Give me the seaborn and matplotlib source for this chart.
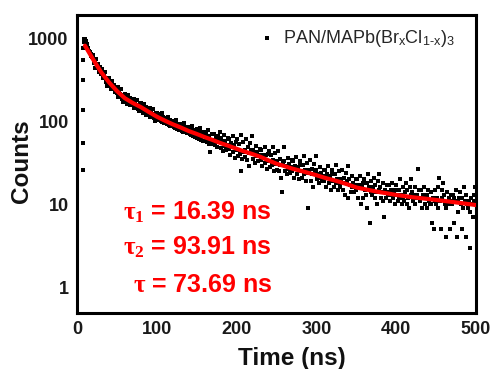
import numpy as np
import pandas as pd
import matplotlib
matplotlib.use("Agg")
import matplotlib.pyplot as plt
import seaborn as sns

# ---------------- data ----------------
# rising edge of the decay
rise_time = [7, 7, 7, 7.5, 7.5, 8, 8.5, 9]
rise_counts = [26, 55, 138, 320, 560, 780, 930, 1000]

# decay counts, one channel per ns from 10 ns to 500 ns
decay_start, decay_stop = 10, 500
decay_counts = [
    990, 950, 875, 820, 780, 720, 700, 650, 630, 598,   # 10
    638, 506, 557, 450, 567, 462, 496, 399, 437, 454,   # 20
    380, 438, 335, 387, 354, 398, 303, 336, 273, 332,   # 30
    336, 270, 300, 246, 314, 258, 281, 228, 252, 265,   # 40
    223, 260, 200, 233, 216, 246, 188, 211, 173, 213,   # 50
    215, 174, 196, 162, 209, 175, 191, 158, 175, 187,   # 60
    160, 188, 146, 172, 160, 183, 143, 161, 133, 166,   # 70
    168, 136, 153, 127, 163, 136, 149, 122, 137, 146,   # 80
    124, 146, 114, 134, 124, 143, 110, 125, 103, 128,   # 90
    128, 108, 124, 104, 120, 102, 126, 100, 114, 97,    # 100
    112, 96, 109, 93, 115, 91, 105, 88, 102, 90,        # 110
    101, 86, 98, 83, 104, 81, 95, 84, 79, 92,           # 120
    94, 78, 90, 76, 96, 74, 87, 80, 72, 85,             # 130
    86, 71, 83, 69, 89, 67, 80, 73, 65, 78,             # 140
    81, 64, 77, 62, 84, 60, 74, 68, 58, 72,             # 150
    76, 59, 71, 56, 79, 54, 68, 43, 57, 70,             # 160
    54, 60, 70, 52, 63, 58, 49, 67, 60, 75,             # 170
    63, 48, 56, 44, 69, 51, 58, 45, 52, 63,             # 180
    47, 61, 39, 55, 50, 68, 43, 52, 36, 56,             # 190
    61, 45, 38, 54, 41, 69, 25, 35, 57, 43,             # 200
    37, 46, 61, 34, 50, 42, 29, 55, 45, 68,             # 210
    46, 35, 41, 32, 51, 38, 43, 33, 39, 47,             # 220
    34, 45, 29, 40, 37, 50, 32, 39, 27, 41,             # 230
    44, 33, 28, 39, 30, 50, 34, 25, 42, 31,             # 240
    26, 33, 44, 25, 35, 30, 21, 14, 32, 49,             # 250
    33, 25, 29, 23, 36, 27, 31, 24, 28, 34,             # 260
    25, 33, 21, 29, 27, 37, 23, 28, 20, 30,             # 270
    33, 25, 21, 30, 23, 38, 26, 19, 32, 24,             # 280
    9, 26, 34, 19, 27, 23, 16, 31, 25, 38,              # 290
    26, 20, 23, 18, 28, 21, 24, 19, 22, 26,             # 300
    19, 26, 16, 23, 21, 29, 18, 22, 15, 23,             # 310
    26, 19, 16, 23, 18, 30, 20, 15, 25, 18,             # 320
    16, 20, 26, 15, 21, 18, 13, 24, 19, 29,             # 330
    12, 20, 17, 14, 22, 16, 18, 14, 17, 20,             # 340
    15, 20, 12, 17, 16, 22, 10, 17, 12, 18,             # 350
    20, 15, 13, 18, 9, 23, 16, 6, 19, 14,               # 360
    13, 16, 21, 12, 17, 14, 10, 19, 15, 23,             # 370
    16, 12, 14, 11, 18, 7, 15, 12, 14, 17,              # 380
    13, 17, 11, 15, 13, 18, 12, 14, 10, 15,             # 390
    17, 13, 11, 15, 12, 20, 13, 10, 16, 12,             # 400
    11, 14, 18, 10, 15, 12, 9, 16, 13, 20,              # 410
    14, 11, 13, 10, 16, 12, 13, 27, 12, 15,             # 420
    11, 15, 9, 13, 12, 16, 10, 13, 9, 13,               # 430
    15, 11, 10, 14, 10, 6, 12, 5, 15, 11,               # 440
    10, 12, 16, 9, 21, 11, 5, 15, 12, 18,               # 450
    13, 10, 4, 9, 14, 10, 12, 5, 11, 13,                # 460
    10, 13, 6, 12, 11, 15, 4, 11, 8, 12,                # 470
    14, 10, 5, 12, 9, 16, 11, 4, 13, 10,                # 480
    9, 11, 3, 8, 12, 10, 7, 13, 11, 16, 10,             # 490-500
]

# fitted curve
fit_time = [10, 20, 30, 40, 50, 60, 70, 80, 90, 100, 110, 120, 130, 140, 150,
            160, 170, 180, 190, 200, 210, 220, 230, 240, 250, 260, 270, 280,
            290, 300, 310, 320, 330, 340, 350, 360, 370, 380, 390, 400, 410,
            420, 430, 440, 450, 460, 470, 480, 490, 500]
fit_counts = [830, 570, 400, 300, 235, 192, 168, 150, 131, 115, 103, 93, 85,
              77, 71, 65, 60, 55, 51, 47, 43.5, 40.5, 37.5, 34, 31, 29, 27,
              25.5, 24, 22.5, 21, 19.8, 18.6, 17.3, 16, 15.3, 14.6, 14, 13.5,
              13, 12.6, 12.2, 11.9, 11.6, 11.3, 11, 10.7, 10.4, 10.1, 9.8]

series_label = "PAN/MAPb(Br$_\\mathregular{x}$Cl$_\\mathregular{1\u2010x}$)$_\\mathregular{3}$"
tau_lines = [r"$\mathrm{\tau}_{\mathrm{1}}\ $= 16.39 ns",
             r"$\mathrm{\tau}_{\mathrm{2}}\ $= 93.91 ns",
             r"$\mathrm{\tau}\ $= 73.69 ns"]
x_ticks = [0, 100, 200, 300, 400, 500]
y_ticks = [1, 10, 100, 1000]

# ---------------- styling ----------------
sns.set_style("white")
plt.rcParams["font.family"] = ["Liberation Sans", "DejaVu Sans"]
plt.rcParams["mathtext.fontset"] = "custom"
plt.rcParams["mathtext.rm"] = "Liberation Serif:bold"
plt.rcParams["mathtext.it"] = "Liberation Serif:italic:bold"
plt.rcParams["mathtext.bf"] = "Liberation Serif:bold"

decay_time = np.arange(decay_start, decay_stop + 1)
df = pd.DataFrame({
    "time": list(rise_time) + list(decay_time),
    "counts": list(rise_counts) + list(decay_counts),
})
fit_df = pd.DataFrame({"time": fit_time, "counts": fit_counts})

fig = plt.figure(figsize=(4.91, 3.69), dpi=100)
ax = fig.add_axes([77 / 491, 1 - 313 / 369, 399 / 491, 298 / 369])

sns.scatterplot(data=df, x="time", y="counts", ax=ax, marker="s", s=9.5,
                color="black", linewidth=0, label=series_label, zorder=2)
sns.lineplot(data=fit_df, x="time", y="counts", ax=ax, color="#ff0000",
             linewidth=3.0, zorder=3, legend=False)

ax.set_yscale("log")
ax.set_xlim(0, 500)
ax.set_ylim(0.485, 1950)
ax.set_xticks(x_ticks)
ax.set_xticklabels([str(v) for v in x_ticks])
ax.set_xticks([50, 150, 250, 350, 450], minor=True)
ax.set_yticks(y_ticks)
ax.set_yticklabels([str(v) for v in y_ticks])
ax.yaxis.set_minor_locator(matplotlib.ticker.LogLocator(base=10, subs=np.arange(2, 10)))
ax.yaxis.set_minor_formatter(matplotlib.ticker.NullFormatter())

for sp in ax.spines.values():
    sp.set_linewidth(2.2)
    sp.set_color("black")

ax.tick_params(axis="both", which="major", direction="in", length=5, width=2,
               labelsize=13, pad=6, colors="black")
ax.tick_params(axis="both", which="minor", direction="in", length=3.5, width=1.6)
ax.tick_params(top=False, right=False, which="both")
for lab in ax.get_xticklabels() + ax.get_yticklabels():
    lab.set_fontweight("bold")
    lab.set_color("#1a1a1a")

ax.set_xlabel("Time (ns)", fontsize=17.5, fontweight="bold", color="#111111")
ax.set_ylabel("Counts", fontsize=17.5, fontweight="bold", color="#111111")
ax.xaxis.set_label_coords(0.539, -0.115)
ax.yaxis.set_label_coords(-0.11, 0.51)

leg = ax.legend(loc="upper right", bbox_to_anchor=(0.965, 0.98), frameon=False,
                fontsize=13, handletextpad=0.4, handlelength=1.0,
                borderaxespad=0, markerscale=0.8)

ys = [0.315, 0.198, 0.0705]
for txt, yy in zip(tau_lines, ys):
    ax.text(0.489, yy, txt, transform=ax.transAxes, ha="right", va="baseline",
            fontsize=18, fontweight="bold", color="#ff0000")

fig.savefig("out.png", dpi=100)
